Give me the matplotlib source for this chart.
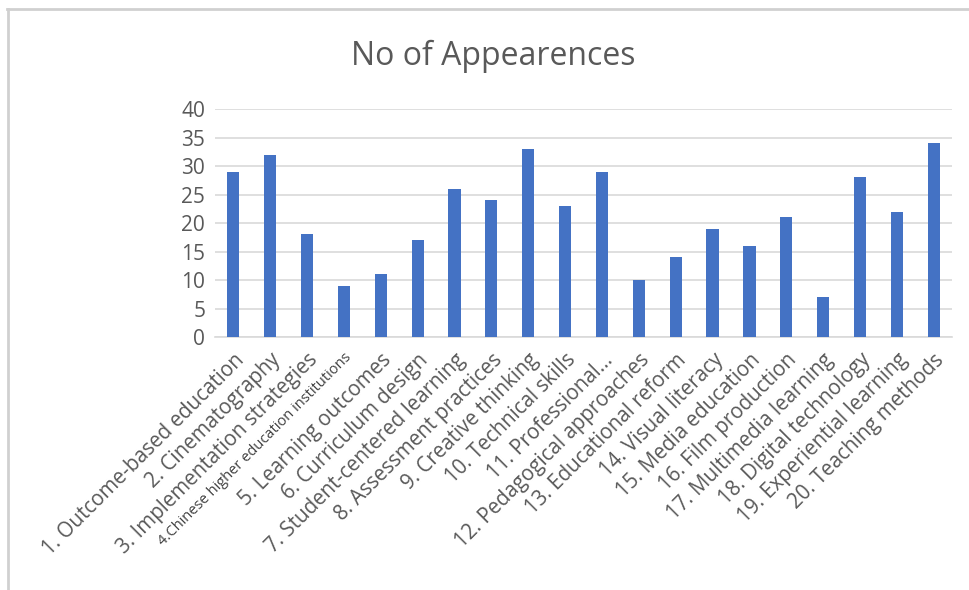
import matplotlib
matplotlib.use("Agg")
import matplotlib.pyplot as plt
from matplotlib.lines import Line2D

categories = [
    "1. Outcome-based education", "2. Cinematography", "3. Implementation strategies",
    "4.Chinese higher education institutions", "5. Learning outcomes", "6. Curriculum design",
    "7. Student-centered learning", "8. Assessment practices", "9. Creative thinking",
    "10. Technical skills", "11. Professional...", "12. Pedagogical approaches",
    "13. Educational reform", "14. Visual literacy", "15. Media education",
    "16. Film production", "17. Multimedia learning", "18. Digital technology",
    "19. Experiential learning", "20. Teaching methods",
]
values = [29, 32, 18, 9, 11, 17, 26, 24, 33, 23, 29, 10, 14, 19, 16, 21, 7, 28, 22, 34]
yticks = [0, 5, 10, 15, 20, 25, 30, 35, 40]
title = "No of Appearences"

plt.rcParams['font.family'] = ['Open Sans', 'DejaVu Sans']
txt = '#595959'

fig = plt.figure(figsize=(9.7, 5.9), dpi=100)
ax = fig.add_axes([0.2216, 0.4288, 0.760, 0.3864])

x = list(range(len(values)))
ax.bar(x, values, width=0.33, color='#4472C4', zorder=3)
ax.set_xlim(-0.5, len(values) - 0.5)
ax.set_ylim(0, 40)
ax.set_yticks(yticks)
ax.set_yticklabels([str(v) for v in yticks], fontsize=15, color=txt)
ax.yaxis.grid(True, color='#D9D9D9', linewidth=1.2, zorder=0)
for s in ['top', 'right', 'left']:
    ax.spines[s].set_visible(False)
ax.spines['bottom'].set_color('#D9D9D9')
ax.spines['bottom'].set_linewidth(1.2)
ax.tick_params(axis='both', length=0)
ax.tick_params(axis='y', pad=7)

ax.set_xticks(x)
ax.set_xticklabels(categories, rotation=45, ha='right', va='top',
                   rotation_mode='anchor', fontsize=14.8, color=txt)
for lbl in ax.get_xticklabels():
    if lbl.get_text().startswith("4."):
        lbl.set_fontsize(10.5)
        lbl.set_color('#404040')
ax.tick_params(axis='x', pad=9)

fig.text(0.509, 0.905, title, ha='center', va='center', fontsize=23, color=txt)

fig.add_artist(Line2D([0.007, 1.0], [0.984, 0.984], transform=fig.transFigure,
                      color='#D0D0D0', linewidth=2))
fig.add_artist(Line2D([0.008, 0.008], [0.0, 0.984], transform=fig.transFigure,
                      color='#D0D0D0', linewidth=2))

fig.savefig('out.png', dpi=100, facecolor='white')
